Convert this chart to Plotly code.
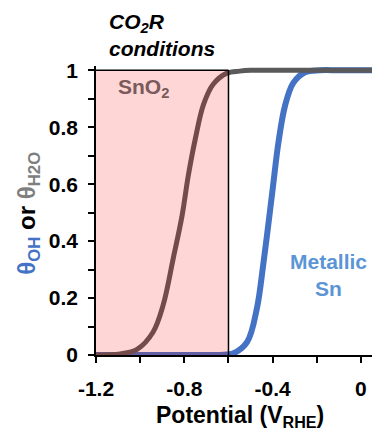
import plotly.graph_objects as go

# SnO2 coverage curve
sno2_x = [-1.2, -1.09, -1.014, -0.942, -0.896, -0.85, -0.81, -0.782, -0.75, -0.713, -0.67, -0.607, -0.55, -0.5, -0.4, 0.05]
sno2_y = [0.0, 0.004, 0.02, 0.08, 0.175, 0.34, 0.49, 0.63, 0.76, 0.88, 0.95, 0.99, 0.997, 1.0, 1.0, 1.0]

# Metallic Sn coverage curve
sn_x = [-1.2, -0.9, -0.7, -0.62, -0.58, -0.516, -0.471, -0.443, -0.42, -0.398, -0.374, -0.344, -0.307, -0.253, -0.186, -0.1, 0.05]
sn_y = [0.0, 0.0, 0.0, 0.001, 0.005, 0.045, 0.165, 0.315, 0.455, 0.595, 0.745, 0.875, 0.955, 0.993, 1.0, 1.0, 1.0]

x_tickvals = [-1.2, -0.8, -0.4, 0]
x_ticktext = ["-1.2", "-0.8", "-0.4", "0"]
y_tickvals = [0, 0.2, 0.4, 0.6, 0.8, 1.0]
y_ticktext = ["0", "0.2", "0.4", "0.6", "0.8", "1"]

region_x = [-1.2, -0.6]

FONT = "Liberation Sans, Arial, sans-serif"
BLUE = "#4472C4"

fig = go.Figure()
fig.add_trace(go.Scatter(x=sn_x, y=sn_y, mode="lines",
                         line=dict(color=BLUE, width=6, shape="spline", smoothing=1.0),
                         hoverinfo="skip"))
fig.add_trace(go.Scatter(x=sno2_x, y=sno2_y, mode="lines",
                         line=dict(color="#5a5a5a", width=5, shape="spline", smoothing=1.0),
                         hoverinfo="skip"))

# CO2R conditions shaded region (overlay)
fig.add_shape(type="rect", xref="x", yref="y", x0=region_x[0], x1=region_x[1], y0=0, y1=1,
              fillcolor="rgba(255,0,0,0.16)", line=dict(width=0), layer="above")
fig.add_shape(type="line", xref="x", yref="y", x0=region_x[0], x1=region_x[1], y0=1, y1=1,
              line=dict(color="black", width=1.5), layer="above")
fig.add_shape(type="line", xref="x", yref="y", x0=region_x[1], x1=region_x[1], y0=0, y1=1,
              line=dict(color="black", width=1.5), layer="above")

fig.add_annotation(x=0.0399, y=1.149, xref="paper", yref="paper", xanchor="left", yanchor="middle",
                   text="<b><i>CO<sub>2</sub>R</i></b>", showarrow=False,
                   font=dict(family=FONT, size=21, color="black"))
fig.add_annotation(x=0.0399, y=1.062, xref="paper", yref="paper", xanchor="left", yanchor="middle",
                   text="<b><i>conditions</i></b>", showarrow=False,
                   font=dict(family=FONT, size=21, color="black"))
fig.add_annotation(x=-0.987, y=0.938, xref="x", yref="y", xanchor="center", yanchor="middle",
                   text="<b>SnO<sub>2</sub></b>", showarrow=False,
                   font=dict(family=FONT, size=21, color="#7a5a5a"))
fig.add_annotation(x=-0.145, y=0.28, xref="x", yref="y", xanchor="center", yanchor="middle",
                   text="<b>Metallic<br>Sn</b>", showarrow=False,
                   font=dict(family=FONT, size=21, color="#5B95D6"))
fig.add_annotation(x=-0.245, y=0.49, xref="paper", yref="paper", xanchor="center", yanchor="middle",
                   textangle=-90,
                   text="<b><span style='color:#4472C4'>θ<sub>OH</sub></span> or "
                        "<span style='color:#7f7f7f'>θ<sub>H2O</sub></span></b>",
                   showarrow=False, font=dict(family=FONT, size=24, color="black"))
fig.add_annotation(x=0.522, y=-0.212, xref="paper", yref="paper", xanchor="center", yanchor="middle",
                   text="<b>Potential (V<sub>RHE</sub>)</b>", showarrow=False,
                   font=dict(family=FONT, size=23, color="black"))

fig.update_layout(
    width=373, height=431,
    margin=dict(l=96, r=1, t=66, b=76),
    paper_bgcolor="white", plot_bgcolor="white",
    showlegend=False,
    font=dict(family=FONT, color="black"),
    xaxis=dict(range=[-1.2, 0.05], tickvals=x_tickvals, ticktext=x_ticktext,
               showgrid=False, zeroline=False, showline=True, linecolor="black", linewidth=1.5,
               ticks="outside", ticklen=6, tickcolor="black", tickwidth=1.5,
               ticklabelstandoff=8,
               minor=dict(tick0=-1.2, dtick=0.2, ticks="outside", ticklen=6, tickcolor="black", tickwidth=1.5),
               tickfont=dict(family=FONT, size=21, weight="bold", color="black")),
    yaxis=dict(range=[0, 1.015], tickvals=y_tickvals, ticktext=y_ticktext,
               showgrid=False, zeroline=False, showline=True, linecolor="black", linewidth=1.5,
               ticks="outside", ticklen=6, tickcolor="black", tickwidth=1.5,
               ticklabelstandoff=6,
               minor=dict(tick0=0, dtick=0.1, ticks="outside", ticklen=6, tickcolor="black", tickwidth=1.5),
               tickfont=dict(family=FONT, size=21, weight="bold", color="black")),
)

fig.write_html("out.html", config={"displayModeBar": False},
               post_script="document.body.style.margin='0';document.body.style.overflow='hidden';")
